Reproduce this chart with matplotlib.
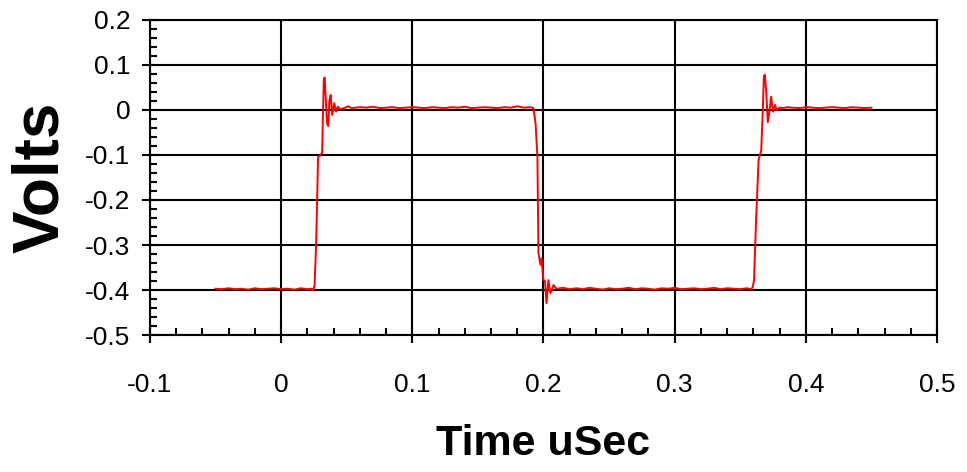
import matplotlib.pyplot as plt
from matplotlib.ticker import MultipleLocator

plt.rcParams['font.family'] = ['Liberation Sans', 'DejaVu Sans']

# waveform (time in uSec, volts)
time = [-0.050, -0.045, -0.040, -0.035, -0.030, -0.025, -0.020, -0.015, -0.010,
        -0.005, 0.000, 0.005, 0.010, 0.015, 0.020, 0.0235, 0.0245, 0.0255,
        0.0267, 0.0282, 0.0300, 0.0313, 0.0320, 0.0326, 0.0332, 0.0340,
        0.0350, 0.0360, 0.0368, 0.0378, 0.0390, 0.0405, 0.0420, 0.0432, 0.0450,
        0.0480, 0.0510, 0.0540, 0.0570, 0.0600, 0.0650, 0.0700, 0.0750, 0.0800,
        0.0850, 0.0900, 0.0950, 0.1000, 0.1050, 0.1100, 0.1150, 0.1200, 0.1250,
        0.1300, 0.1350, 0.1400, 0.1450, 0.1500, 0.1550, 0.1600, 0.1650, 0.1700,
        0.1750, 0.1800, 0.1850, 0.1900, 0.1924, 0.1940, 0.1954, 0.1962, 0.1977,
        0.1985, 0.2000, 0.2012, 0.2023, 0.2038, 0.2053, 0.2076, 0.2100, 0.2150,
        0.2200, 0.2250, 0.2300, 0.2350, 0.2400, 0.2450, 0.2500, 0.2550, 0.2600,
        0.2650, 0.2700, 0.2750, 0.2800, 0.2850, 0.2900, 0.2950, 0.3000, 0.3050,
        0.3100, 0.3150, 0.3200, 0.3250, 0.3300, 0.3350, 0.3400, 0.3450, 0.3500,
        0.3550, 0.3585, 0.3595, 0.3605, 0.3620, 0.3640, 0.3660, 0.3672, 0.3680,
        0.3688, 0.3698, 0.3710, 0.3720, 0.3735, 0.3750, 0.3765, 0.3780, 0.3800,
        0.3830, 0.3860, 0.3900, 0.3950, 0.4000, 0.4050, 0.4100, 0.4150, 0.4200,
        0.4250, 0.4300, 0.4350, 0.4400, 0.4450, 0.4500]
volts = [-0.397, -0.398, -0.396, -0.398, -0.397, -0.399, -0.396, -0.398, -0.397,
         -0.396, -0.398, -0.397, -0.399, -0.396, -0.398, -0.397, -0.401, -0.390,
         -0.300, -0.105, -0.100, -0.095, 0.000, 0.068, 0.072, 0.030,
         -0.029, -0.036, 0.020, 0.033, -0.011, 0.015, -0.004, 0.007, 0.002,
         0.004, 0.008, 0.004, 0.005, 0.006, 0.005, 0.007, 0.004, 0.005,
         0.006, 0.004, 0.005, 0.006, 0.005, 0.004, 0.006, 0.005, 0.004,
         0.006, 0.005, 0.007, 0.004, 0.005, 0.006, 0.005, 0.004, 0.006,
         0.005, 0.008, 0.005, 0.006, 0.004, -0.030, -0.104, -0.318, -0.344,
         -0.330, -0.378, -0.380, -0.429, -0.378, -0.407, -0.389, -0.397, -0.395,
         -0.398, -0.396, -0.398, -0.395, -0.397, -0.399, -0.396, -0.398, -0.397,
         -0.395, -0.398, -0.396, -0.397, -0.399, -0.396, -0.397, -0.395, -0.398,
         -0.397, -0.396, -0.398, -0.397, -0.395, -0.398, -0.396, -0.397, -0.398,
         -0.396, -0.398, -0.393, -0.378, -0.250, -0.111, -0.090, 0.000, 0.075,
         0.078, 0.040, -0.027, -0.010, 0.029, -0.004, 0.011, 0.000, 0.005,
         0.004, 0.006, 0.005, 0.004, 0.006, 0.005, 0.004, 0.005, 0.006,
         0.005, 0.004, 0.006, 0.005, 0.004, 0.005]

xticks = [-0.1, 0.0, 0.1, 0.2, 0.3, 0.4, 0.5]
yticks = [-0.5, -0.4, -0.3, -0.2, -0.1, 0.0, 0.1, 0.2]

fig = plt.figure(figsize=(9.67, 4.72), dpi=100)
ax = fig.add_axes([0.155, 0.29, 0.814, 0.668])

ax.plot(time, volts, color='#ff0000', linewidth=1.4, zorder=3)

ax.set_xticks(xticks)
ax.set_xticklabels(['%g' % v for v in xticks])
ax.set_yticks(yticks)
ax.set_yticklabels(['%g' % v for v in yticks])
ax.xaxis.set_minor_locator(MultipleLocator(0.02))
ax.yaxis.set_minor_locator(MultipleLocator(0.02))
ax.set_xlim(-0.1, 0.5)
ax.set_ylim(-0.5, 0.2)

ax.grid(True, which='major', color='black', linewidth=1.5)
for s in ax.spines.values():
    s.set_linewidth(1.5)
ax.tick_params(which='major', direction='inout', length=12, width=1.5,
               labelsize=19, color='black')
ax.tick_params(axis='x', which='major', pad=21)
ax.tick_params(axis='y', which='major', pad=8)
ax.tick_params(which='minor', direction='in', length=5, width=1.5)

ax.set_xlabel('Time uSec', fontsize=31, fontweight='bold', labelpad=20)
ax.set_ylabel('Volts', fontsize=46, fontweight='bold', labelpad=10)

fig.savefig('out.png', dpi=100)
